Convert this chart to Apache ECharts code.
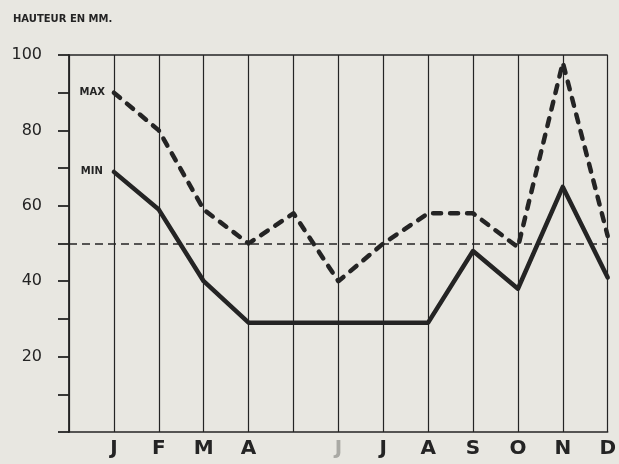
<!DOCTYPE html>
<html>
<head>
<meta charset="utf-8">
<script src="https://cdn.jsdelivr.net/npm/echarts@6/dist/echarts.min.js"></script>
<style>
html,body{margin:0;padding:0;background:#e8e7e1;}
#chart{width:619px;height:464px;}
</style>
</head>
<body>
<div id="chart"></div>
<script>
// Months (tick labels); May label is not drawn on the original, June is faint
const monthLabels = ['J','F','M','A','M','J','J','A','S','O','N','D'];
const hiddenLabels = [4];
const faintLabels = [5];
// Rainfall height in mm
const maxValues = [90, 80, 59, 50, 58, 40, 50, 58, 58, 49, 98, 52];
const minValues = [69, 59, 40, 29, 29, 29, 29, 29, 48, 38, 65, 41];
const yTickLabels = [20, 40, 60, 80, 100];
const refLevel = 50;
const topLevel = 100;

const ink = '#242424';
const categories = [''].concat(monthLabels);

function withStartLabel(values, text, dist) {
  return [null].concat(values.map(function (v, i) {
    return i === 0
      ? {value: v, label: {show: true, formatter: text, position: 'left', distance: dist}}
      : v;
  }));
}

const chart = echarts.init(document.getElementById('chart'));
chart.setOption({
  backgroundColor: '#e8e7e1',
  animation: false,
  title: {
    text: 'HAUTEUR EN MM.',
    left: 8, top: 9,
    textStyle: {fontFamily: 'DejaVu Sans', fontSize: 10, fontWeight: 'bold', color: ink}
  },
  grid: {left: 69, right: 10, top: 55, bottom: 32},
  xAxis: {
    type: 'category',
    data: categories,
    boundaryGap: false,
    axisLine: {lineStyle: {color: ink, width: 1.5}},
    axisTick: {show: false},
    splitLine: {show: true, lineStyle: {color: ink, width: 1.2}},
    axisLabel: {
      interval: 0,
      margin: 7,
      formatter: function (v, i) {
        const k = i - 1;
        if (k < 0 || hiddenLabels.indexOf(k) >= 0) return '';
        return faintLabels.indexOf(k) >= 0 ? '{f|' + v + '}' : v;
      },
      fontFamily: 'DejaVu Sans', fontSize: 20, fontWeight: 'bold', color: ink,
      rich: {f: {fontFamily: 'DejaVu Sans', fontSize: 20, color: '#a9a9a4'}}
    }
  },
  yAxis: {
    type: 'value',
    min: 0, max: 100, interval: 10,
    axisLine: {show: true, lineStyle: {color: ink, width: 1.8}},
    axisTick: {show: true, length: 11, lineStyle: {color: ink, width: 1.8}},
    splitLine: {show: false},
    axisLabel: {
      margin: 27,
      formatter: function (v) { return yTickLabels.indexOf(v) >= 0 ? String(v) : ''; },
      fontFamily: 'DejaVu Sans', fontSize: 16, color: ink
    }
  },
  series: [
    {
      name: 'MAX',
      type: 'line',
      data: withStartLabel(maxValues, 'MAX', 9),
      symbol: 'circle',
      symbolSize: 0,
      showSymbol: true,
      lineStyle: {color: ink, width: 4.5, type: [8, 9], cap: 'round', join: 'round'},
      itemStyle: {color: ink},
      label: {show: false, fontFamily: 'DejaVu Sans', fontSize: 10, fontWeight: 'bold', color: ink},
      markLine: {
        silent: true, symbol: 'none', label: {show: false},
        data: [
          {yAxis: topLevel, lineStyle: {color: ink, width: 1.5, type: 'solid'}},
          {yAxis: refLevel, lineStyle: {color: ink, width: 1.6, type: [8, 5]}}
        ]
      },
      z: 3
    },
    {
      name: 'MIN',
      type: 'line',
      data: withStartLabel(minValues, 'MIN', 11),
      symbol: 'circle',
      symbolSize: 0,
      showSymbol: true,
      lineStyle: {color: ink, width: 4.5, type: 'solid', join: 'round', cap: 'round'},
      itemStyle: {color: ink},
      label: {show: false, fontFamily: 'DejaVu Sans', fontSize: 10, fontWeight: 'bold', color: ink},
      z: 4
    }
  ]
});
</script>
</body>
</html>
